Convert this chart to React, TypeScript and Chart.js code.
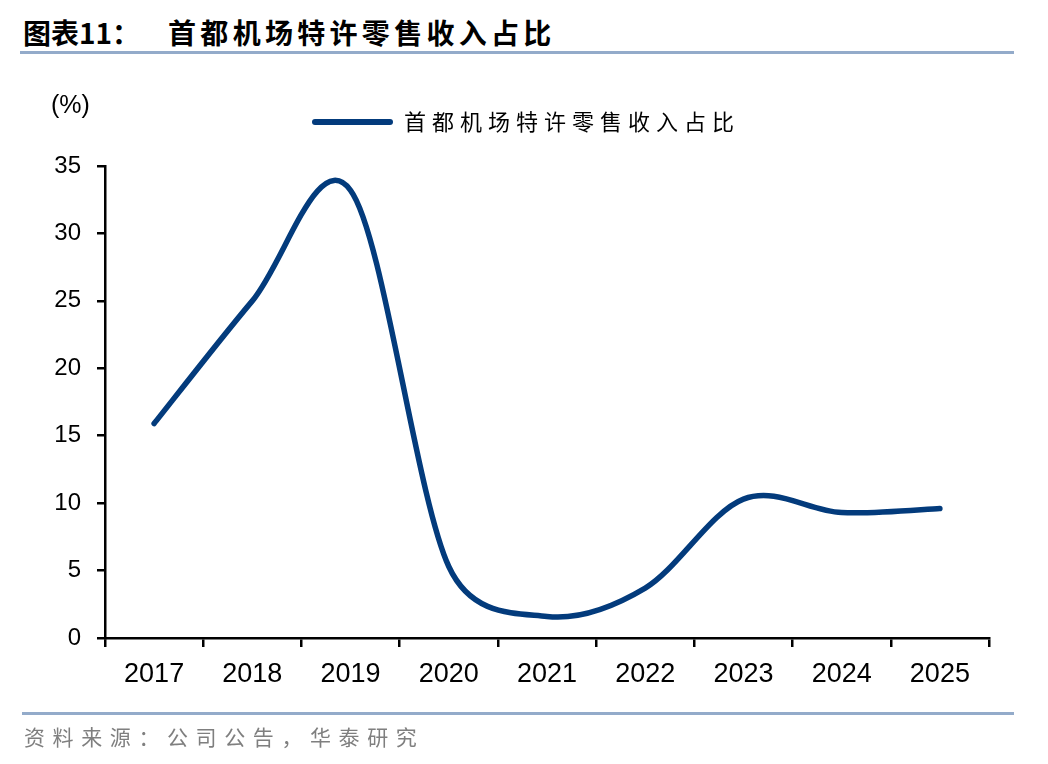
import React, { useEffect, useRef } from "react";
import { Chart, registerables } from "chart.js";

Chart.register(...registerables);

const years = ["2017", "2018", "2019", "2020", "2021", "2022", "2023", "2024", "2025"];
const shareValues = [15.9, 25.0, 33.2, 5.3, 1.6, 3.7, 10.3, 9.3, 9.6];
const yTicks = [0, 5, 10, 15, 20, 25, 30, 35];
const seriesName = "首都机场特许零售收入占比";
const titleText = "图表11：";
const titleRest = "首都机场特许零售收入占比";
const sourceText = "资料来源：公司公告，华泰研究";
const unitText = "(%)";

const LINE_COLOR = "#033B7C";
const RULE_COLOR = "#93ABCA";

// Office-style smoothing: tangent/6 arms, each capped at half of its segment
const smoothPlugin = {
  id: "officeSmooth",
  beforeDatasetsDraw(chart: any) {
    chart.getSortedVisibleDatasetMetas().forEach((meta: any) => {
      const line = meta.dataset;
      if (!line) return;
      line.updateControlPoints(chart.chartArea, meta.indexAxis);
      const pts = meta.data;
      const n = pts.length;
      for (let i = 0; i < n; i++) {
        const p = pts[i];
        const prev = pts[Math.max(i - 1, 0)];
        const next = pts[Math.min(i + 1, n - 1)];
        const dx = (next.x - prev.x) / 6;
        const dy = (next.y - prev.y) / 6;
        const arm = Math.hypot(dx, dy) || 1;
        const segPrev = Math.hypot(p.x - prev.x, p.y - prev.y);
        const segNext = Math.hypot(next.x - p.x, next.y - p.y);
        const kPrev = Math.min(1, (segPrev / 2) / arm);
        const kNext = Math.min(1, (segNext / 2) / arm);
        p.cp1x = p.x - dx * kPrev;
        p.cp1y = p.y - dy * kPrev;
        p.cp2x = p.x + dx * kNext;
        p.cp2y = p.y + dy * kNext;
      }
    });
  },
};

const legendPlugin = {
  id: "customLegend",
  afterDraw(chart: any) {
    const ctx = chart.ctx;
    ctx.save();
    ctx.strokeStyle = LINE_COLOR;
    ctx.lineWidth = 6;
    ctx.lineCap = "round";
    ctx.beginPath();
    ctx.moveTo(315, 122);
    ctx.lineTo(390, 122);
    ctx.stroke();
    ctx.fillStyle = "#000";
    ctx.font = '22px "Noto Sans CJK SC"';
    (ctx as any).letterSpacing = "6px";
    ctx.textBaseline = "middle";
    ctx.textAlign = "left";
    ctx.fillText(seriesName, 404, 122);
    (ctx as any).letterSpacing = "0px";
    ctx.font = '25px "Liberation Sans", Arial';
    ctx.fillText(unitText, 51, 106);
    ctx.restore();
  },
};

export default function App() {
  const ref = useRef<HTMLCanvasElement | null>(null);

  useEffect(() => {
    document.body.style.margin = "0";
    if (!ref.current) return;
    const chart = new Chart(ref.current, {
      type: "line",
      data: {
        labels: years,
        datasets: [
          {
            label: seriesName,
            data: shareValues,
            borderColor: LINE_COLOR,
            backgroundColor: LINE_COLOR,
            borderWidth: 5.5,
            borderCapStyle: "round",
            pointRadius: 0,
            pointHoverRadius: 0,
            tension: 0.4,
            fill: false,
          },
        ],
      },
      options: {
        animation: false,
        responsive: false,
        maintainAspectRatio: false,
        layout: { padding: { left: 0, top: 166, right: 59, bottom: 0 } },
        plugins: {
          legend: { display: false },
          title: { display: false },
          tooltip: { enabled: false },
        },
        scales: {
          x: {
            type: "category",
            offset: true,
            afterFit: (s: any) => {
              s.height = 126;
            },
            grid: {
              offset: true,
              drawOnChartArea: false,
              drawTicks: true,
              tickLength: 9,
              color: "#000",
              lineWidth: 2.5,
            },
            border: { display: true, color: "#000", width: 2.5 },
            ticks: {
              color: "#000",
              font: { family: '"Liberation Sans", Arial', size: 27 },
              padding: 11,
              maxRotation: 0,
            },
          },
          y: {
            min: 0,
            max: 35,
            afterFit: (s: any) => {
              s.width = 105;
            },
            afterBuildTicks: (s: any) => {
              s.ticks = yTicks.map((v) => ({ value: v }));
            },
            grid: {
              drawOnChartArea: false,
              drawTicks: true,
              tickLength: 8,
              color: "#000",
              lineWidth: 2.5,
            },
            border: { display: true, color: "#000", width: 2.5 },
            ticks: {
              color: "#000",
              font: { family: '"Liberation Sans", Arial', size: 24 },
              padding: 16,
            },
          },
        },
      },
      plugins: [smoothPlugin, legendPlugin],
    });
    return () => chart.destroy();
  }, []);

  return (
    <div style={{ position: "absolute", left: 0, top: 0, width: 1048, height: 764, background: "#fff" }}>
      <div
        style={{
          position: "absolute",
          left: 23,
          top: 14,
          fontFamily: '"Noto Sans CJK SC"',
          fontWeight: 700,
          fontSize: 28,
          lineHeight: "36px",
          whiteSpace: "nowrap",
          color: "#000",
        }}
      >
        <span>{titleText}</span>
        <span style={{ marginLeft: 28, letterSpacing: 4.3 }}>{titleRest}</span>
      </div>
      <div style={{ position: "absolute", left: 20, top: 51, width: 994, height: 3, background: RULE_COLOR }} />
      <canvas ref={ref} width={1048} height={764} style={{ position: "absolute", left: 0, top: 0 }} />
      <div style={{ position: "absolute", left: 22, top: 712, width: 992, height: 3, background: RULE_COLOR }} />
      <div
        style={{
          position: "absolute",
          left: 24,
          top: 722,
          fontFamily: '"Noto Sans CJK SC"',
          fontSize: 21,
          lineHeight: "28px",
          letterSpacing: 7.6,
          color: "#7F7F7F",
          whiteSpace: "nowrap",
        }}
      >
        {sourceText}
      </div>
    </div>
  );
}
